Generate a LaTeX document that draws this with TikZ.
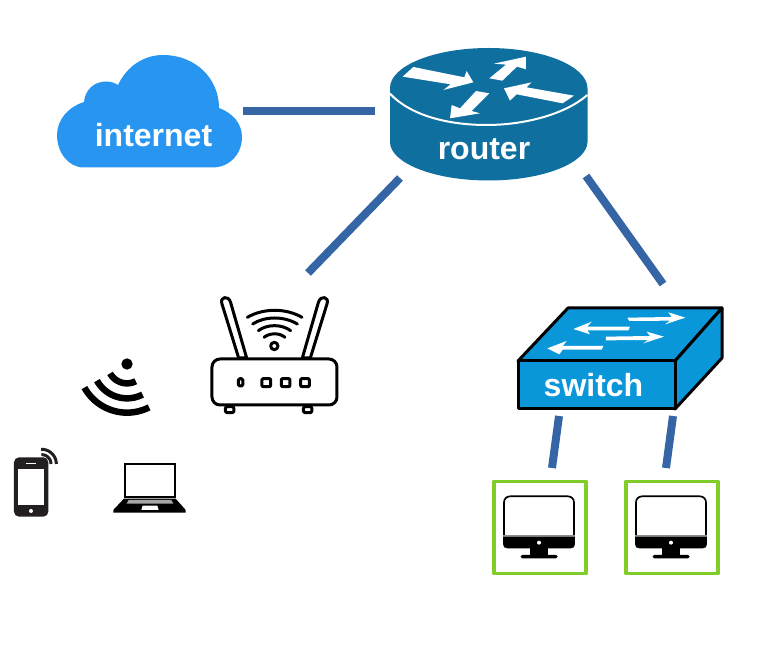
\documentclass[tikz,border=0pt]{standalone}
\usepackage{fontspec}
\setmainfont{Liberation Sans}
\definecolor{cloudblue}{HTML}{2896F0}
\definecolor{routerblue}{HTML}{0F6F9F}
\definecolor{switchblue}{HTML}{0A97DA}
\definecolor{linkblue}{HTML}{3565A5}
\definecolor{pcgreen}{HTML}{80CC28}
\definecolor{phoneblack}{HTML}{231F20}
\tikzset{
  link/.style={draw=linkblue,line width=8pt},
  label/.style={text=white,font=\fontsize{32}{36}\selectfont\bfseries,inner sep=0pt},
  swedge/.style={draw=black,line width=3pt,fill=switchblue,line join=round},
  whitearrow/.style={fill=white,draw=none},
  icon/.style={draw=black,line width=3pt,line join=round},
  fan/.style={draw=black,line width=6.5pt},
  pcbox/.style={draw=pcgreen,line width=3.5pt,line join=round},
}
\begin{document}
\begin{tikzpicture}[x=1pt,y=-1pt]
\useasboundingbox (0,0) rectangle (764,660);

% cloud
\fill[cloudblue] (84,167.5)
  .. controls (68,167.5) and (57,152) .. (57,135)
  .. controls (57,120) and (68,107) .. (84,102)
  .. controls (85,90) and (94,81.5) .. (106,81.5)
  .. controls (111,81.5) and (115,83) .. (118,85)
  .. controls (127,66) and (144,55) .. (163,55)
  .. controls (195,55) and (219,78) .. (219,108)
  .. controls (233,113) and (242,124) .. (242,137)
  .. controls (242,154) and (230,167.5) .. (212,167.5) -- cycle;
\node[label] (internet) at (153.5,135.5) {internet};

% router
\fill[routerblue] (390,88) .. controls (390,66) and (434,48) .. (488.5,48)
  .. controls (543,48) and (587,66) .. (587.5,88) -- (587.5,142)
  .. controls (587,163) and (543,180.5) .. (488.5,180.5)
  .. controls (434,180.5) and (390,163) .. (390,142) -- cycle;
\begin{scope}[shift={(370,30)},scale=0.3333]
\draw[white,line width=2pt] (60,191) .. controls (120,255) and (230,285) .. (350,285)
  .. controls (470,285) and (590,250) .. (652,195);
\fill[whitearrow] (98,140) -- (130,111) -- (283,142) -- (290,123) -- (310,157) -- (220,180) -- (242,163) -- cycle;
\fill[whitearrow] (358,145) -- (408,104) -- (372,101) -- (468,80) -- (468,118) -- (441,110) -- (397,152) -- cycle;
\fill[whitearrow] (402,175) -- (485,157) -- (470,172) -- (612,197) -- (578,220) -- (440,193) -- (420,212) -- cycle;
\fill[whitearrow] (240,265) -- (245,225) -- (270,235) -- (318,183) -- (358,190) -- (305,243) -- (330,250) -- cycle;
\end{scope}
\node[label] (router) at (484,149) {router};

% switch
\draw[swedge] (518,361) -- (568,308) -- (722,308) -- (675,361) -- cycle;
\draw[swedge] (675,361) -- (722,308) -- (722,358) -- (675,409) -- cycle;
\draw[swedge] (518,361) rectangle (675,409);
\begin{scope}[shift={(500,295)},scale=0.3333]
\fill[whitearrow] (382,68) -- (515,66) -- (505,52) -- (556,68) -- (495,88) -- (510,77) -- (388,78) -- cycle;
\fill[whitearrow] (220,102) -- (275,80) -- (262,95) -- (390,95) -- (385,106) -- (262,106) -- (270,118) -- cycle;
\fill[whitearrow] (318,125) -- (450,123) -- (440,110) -- (492,125) -- (430,145) -- (445,135) -- (318,136) -- cycle;
\fill[whitearrow] (142,160) -- (200,138) -- (188,153) -- (310,153) -- (305,164) -- (188,164) -- (178,178) -- cycle;
\end{scope}
\node[label] (switch) at (593.5,385) {switch};

% wireless router icon
\begin{scope}[shift={(190,280)},scale=0.3333]
\draw[icon,fill=white] (96,72) .. controls (88,50) and (116,44) .. (122,68) -- (170,234) -- (146,234) -- cycle;
\draw[icon,fill=white] (411,72) .. controls (419,50) and (391,44) .. (385,68) -- (337,234) -- (361,234) -- cycle;
\draw[icon,fill=white,rounded corners=8pt] (66,237) rectangle (441,375);
\draw[icon,fill=white,rounded corners=2pt] (106,380) rectangle (132,398);
\draw[icon,fill=white,rounded corners=2pt] (340,380) rectangle (366,398);
\draw[icon,rounded corners=1.5pt] (145,296) rectangle (159,318);
\draw[icon,rounded corners=1pt] (216,296) rectangle (242,320);
\draw[icon,rounded corners=1pt] (274,296) rectangle (300,320);
\draw[icon,rounded corners=1pt] (332,296) rectangle (358,320);
\draw[icon,line cap=round] (172,112) .. controls (220,84) and (288,84) .. (336,112);
\draw[icon,line cap=round] (188,132) .. controls (225,108) and (282,108) .. (322,132);
\draw[icon,line cap=round] (205,152) .. controls (232,132) and (275,132) .. (302,152);
\draw[icon,line cap=round] (222,172) .. controls (240,158) and (268,158) .. (285,172);
\draw[icon] (253,198) circle[radius=11];
\end{scope}

% wifi fan
\begin{scope}[shift={(0,340)},scale=0.3333]
\fill (381,72) circle[radius=17];
\foreach \r in {58,103,146}
  \draw[fan] plot[smooth,domain=63:151,samples=24] ({381+\r*cos(\x)},{72+\r*sin(\x)});
\end{scope}

% phone
\begin{scope}[shift={(0,340)},scale=0.3333]
\fill[phoneblack,rounded corners=5pt] (42,352) rectangle (145,530);
\fill[white] (53,388) rectangle (133,495);
\draw[white,line width=1.4pt] (78,371) -- (108,371);
\fill[white] (93,513) circle[radius=6];
\foreach \r in {28,44}
  \draw[phoneblack,line width=3pt] plot[smooth,domain=-92:0,samples=14] ({125+\r*cos(\x)},{372+\r*sin(\x)});
\end{scope}

% laptop
\begin{scope}[shift={(0,340)},scale=0.3333]
\draw[black,line width=2pt] (374,372) rectangle (524,472);
\fill[black] (372,476) -- (527,476) -- (557,510) -- (557,518) -- (340,518) -- (340,510) -- cycle;
\fill[gray!70] (386,480) -- (514,480) -- (520,491) -- (380,491) -- cycle;
\fill[white] (428,497) -- (472,497) -- (476,510) -- (424,510) -- cycle;
\end{scope}

% desktops
\node[pcbox,minimum size=92pt,inner sep=0pt] (pca) at (539.9,527.4) {};
\node[pcbox,minimum size=92pt,inner sep=0pt] (pcb) at (671.9,527.4) {};
\foreach \dx in {0,132}{
\begin{scope}[shift={(480+\dx,470)},scale=0.3333]
\draw[black,line width=1.7pt,rounded corners=6pt] (72,196) -- (72,79) -- (282,79) -- (282,196);
\fill[black!45] (70,195) rectangle (284,201);
\fill[black] (69,201) -- (285,201) -- (285,222) .. controls (285,231) and (280,235) .. (272,235)
  -- (82,235) .. controls (74,235) and (69,231) .. (69,222) -- cycle;
\fill[white] (177,218) circle[radius=6];
\fill[black] (150,235) rectangle (205,255);
\fill[black,rounded corners=1.5pt] (122,255) rectangle (233,265);
\end{scope}}

% connector ends
\coordinate (i1) at (243,111.5);
\coordinate (r1) at (375,111.5);
\coordinate (r2) at (400,178);
\coordinate (w1) at (308,273);
\coordinate (r3) at (586,176);
\coordinate (s1) at (663,284);
\coordinate (s2) at (559,416);
\coordinate (p1) at (552,468);
\coordinate (s3) at (673,416);
\coordinate (p2) at (666,468);
\draw[link] (i1) -- (r1);
\draw[link] (r2) -- (w1);
\draw[link] (r3) -- (s1);
\draw[link] (s2) -- (p1);
\draw[link] (s3) -- (p2);
\end{tikzpicture}
\end{document}
